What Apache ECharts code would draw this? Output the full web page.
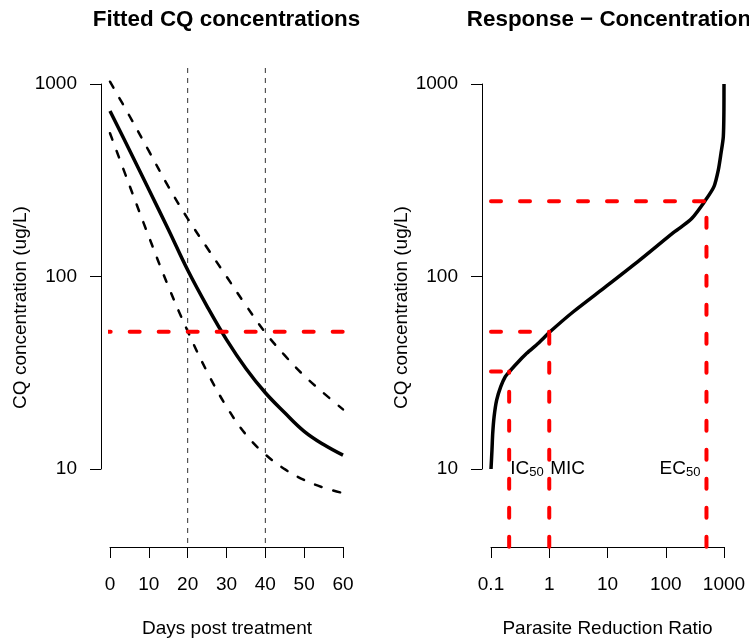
<!DOCTYPE html>
<html>
<head>
<meta charset="utf-8">
<script src="https://cdn.jsdelivr.net/npm/echarts@6/dist/echarts.min.js"></script>
<style>
  html, body { margin: 0; padding: 0; background: #fff; }
  #chart { width: 749px; height: 641px; }
</style>
</head>
<body>
<div id="chart"></div>
<script>
// left panel: fitted CQ concentrations over time
const days = [0, 5, 10, 15, 20, 25, 30, 35, 40, 45, 50, 55, 60]
const concMedian = [724, 454, 283, 176, 108, 70.0, 47.0, 33.3, 24.9, 19.6, 15.7, 13.4, 11.8]
const concUpper = [1028, 684, 449, 294, 200, 141, 100, 70.8, 51.1, 38.9, 30.5, 24.8, 20.4]
const concLower = [555, 298, 161, 89.1, 52.0, 32.0, 21.1, 15.1, 11.9, 9.98, 8.77, 8.0, 7.5]
const refDays = [20, 40]
const micConc = 51.6

// right panel: parasite reduction ratio vs concentration
const prrCurve = [0.1, 0.104, 0.107, 0.113, 0.125, 0.147, 0.176, 0.206, 0.315, 0.41, 0.649, 1.03,
  2.59, 9.69, 36.1, 135, 176, 279, 472, 672, 798, 887, 973, 997, 1000]
const concCurve = [10, 12.6, 15.3, 18.7, 22.8, 26.8, 30.2, 32.0, 36.8, 39.9, 45.0, 51.6,
  65.6, 89.3, 122, 169, 179, 200, 247, 293, 357, 436, 532, 733, 1000]
const markNames = ['IC50', 'MIC', 'EC50']
const markPrr = [0.205, 1, 500]
const markConc = [32.1, 51.6, 246]
const labelConc = 10

// plot region limits (outside the axis range)
const dayLow = -2.4
const prrLow = 0.1
const concLow = 3.94
const concHigh = 1211

const FONT = '"Liberation Sans", Arial, sans-serif'
const chart = echarts.init(document.getElementById('chart'), null, { renderer: 'canvas' })

function fmt(v) {
  return String(+Number(v).toPrecision(6))
}

function axisX(idx, type, min, max) {
  const ax = {
    gridIndex: idx,
    type: type,
    min: min,
    max: max,
    offset: 78,
    axisLine: { show: true, onZero: false, lineStyle: { color: '#000', width: 1 } },
    axisTick: { show: true, length: 11, lineStyle: { color: '#000', width: 1 } },
    axisLabel: { color: '#000', fontSize: 19, fontFamily: FONT, margin: 28, formatter: fmt },
    splitLine: { show: false }
  }
  if (type === 'value') ax.interval = 10
  if (type === 'log') ax.logBase = 10
  return ax
}

function axisY(idx) {
  return {
    gridIndex: idx,
    type: 'log',
    logBase: 10,
    min: 10,
    max: 1000,
    offset: 9,
    axisLine: { show: true, onZero: false, lineStyle: { color: '#000', width: 1 } },
    axisTick: { show: true, length: 11, lineStyle: { color: '#000', width: 1 } },
    axisLabel: { color: '#000', fontSize: 19, fontFamily: FONT, margin: 24, formatter: fmt },
    splitLine: { show: false }
  }
}

function line(idx, data, style, z) {
  return {
    type: 'line',
    xAxisIndex: idx,
    yAxisIndex: idx,
    data: data,
    symbol: 'none',
    clip: false,
    silent: true,
    smooth: false,
    z: z || 2,
    lineStyle: style
  }
}

const dashBlack = { color: '#000', width: 2.5, type: [7, 12], cap: 'round' }
const dashRed = { color: '#ff0000', width: 4, type: [10, 19], cap: 'round' }
const dotted = { color: '#333', width: 1, type: [5, 5] }

const series = []

refDays.forEach(d => {
  series.push(line(0, [[d, concHigh], [d, concLow]], dotted, 1))
})
series.push(Object.assign(line(0, days.map((d, i) => [d, concUpper[i]]), dashBlack), { smooth: 0.4 }))
series.push(Object.assign(line(0, days.map((d, i) => [d, concLower[i]]), dashBlack), { smooth: 0.4 }))
series.push(Object.assign(line(0, days.map((d, i) => [d, concMedian[i]]), { color: '#000', width: 3.5 }), { smooth: 0.4 }))
series.push(line(0, [[dayLow, micConc], [60, micConc]], dashRed, 3))

series.push(Object.assign(line(1, prrCurve.map((p, i) => [p, concCurve[i]]), { color: '#000', width: 3.5, join: 'round' }), { smooth: 0.25 }))
markPrr.forEach((p, i) => {
  series.push(line(1, [[prrLow, markConc[i]], [p, markConc[i]]], dashRed, 3))
  series.push(line(1, [[p, concLow], [p, markConc[i]]], dashRed, 3))
})

// labels under the curve
const rich = {
  a: { fontSize: 19, lineHeight: 20, fontFamily: FONT, color: '#000' },
  b: { fontSize: 13, lineHeight: 13, fontFamily: FONT, color: '#000', verticalAlign: 'bottom' }
}
series.push({
  type: 'scatter',
  xAxisIndex: 1,
  yAxisIndex: 1,
  symbolSize: 0,
  silent: true,
  clip: false,
  z: 5,
  itemStyle: { opacity: 1 },
  data: markNames.map((n, i) => ({
    value: [markPrr[i], labelConc],
    label: {
      show: true,
      color: '#000',
      opacity: 1,
      textBorderWidth: 0,
      position: n === 'EC50' ? 'left' : 'right',
      distance: n === 'EC50' ? 6 : 1,
      formatter: n === 'MIC' ? '{a|MIC}' : '{a|' + n.slice(0, 2) + '}{b|50}',
      rich: rich
    }
  }))
})

function txt(x, y, text, size, bold, rot) {
  return {
    type: 'text',
    x: x,
    y: y,
    rotation: rot || 0,
    silent: true,
    style: {
      text: text,
      fill: '#000',
      font: (bold ? 'bold ' : '') + size + 'px ' + FONT,
      textAlign: 'center',
      textVerticalAlign: 'middle',
      align: 'center',
      verticalAlign: 'middle'
    }
  }
}

const option = {
  animation: false,
  backgroundColor: '#fff',
  grid: [
    { left: 110, top: 84, width: 233, height: 385, containLabel: false },
    { left: 491, top: 84, width: 233, height: 385, containLabel: false }
  ],
  xAxis: [axisX(0, 'value', 0, 60), axisX(1, 'log', 0.1, 1000)],
  yAxis: [axisY(0), axisY(1)],
  series: series,
  graphic: [
    txt(226.5, 20, 'Fitted CQ concentrations', 22.4, true),
    txt(609, 20, 'Response \u2212 Concentration', 22.4, true),
    txt(227, 629, 'Days post treatment', 19),
    txt(607.5, 629, 'Parasite Reduction Ratio', 19),
    txt(21, 307.5, 'CQ concentration (ug/L)', 19, false, Math.PI / 2),
    txt(402, 307.5, 'CQ concentration (ug/L)', 19, false, Math.PI / 2)
  ]
}

chart.setOption(option)
</script>
</body>
</html>
